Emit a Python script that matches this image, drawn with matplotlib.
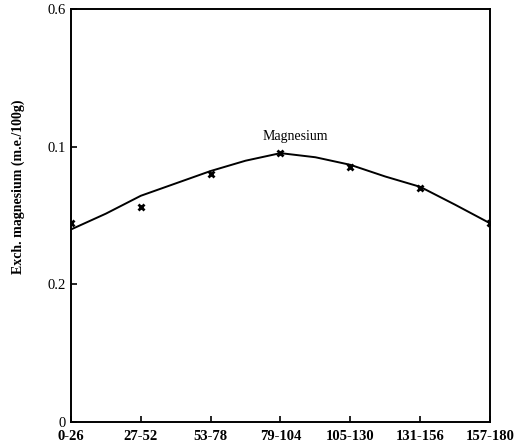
import numpy as np
import matplotlib.pyplot as plt

# depth classes (cm) and measured exchangeable magnesium
depths = ['0-26', '27-52', '53-78', '79-104', '105-130', '131-156', '157-180']
mg_points = [0.290, 0.312, 0.360, 0.391, 0.371, 0.340, 0.289]

# hand-drawn smooth curve at half-class steps
curve_x = [0, 0.5, 1, 1.5, 2, 2.5, 3, 3.5, 4, 4.5, 5, 5.5, 6]
curve_y = [0.280, 0.303, 0.329, 0.347, 0.365, 0.380, 0.391,
           0.385, 0.374, 0.357, 0.342, 0.316, 0.289]

y_ticks = [0, 0.2, 0.4, 0.6]
y_labels = ['0', '0.2', '0.1', '0.6']   # printed as in the original

plt.rcParams['font.family'] = ['Liberation Serif', 'DejaVu Serif']

fig = plt.figure(figsize=(5.18, 4.48), dpi=100)
ax = fig.add_axes([0.137, 0.058, 0.809, 0.921])

x = np.arange(len(depths))
ax.plot(curve_x, curve_y, color='black', lw=1.4)
ax.plot(x, mg_points, 'x', color='black', ms=5, mew=2)

ax.text(3.21, 0.415, 'Magnesium', fontsize=10, ha='center', va='center')

ax.set_xlim(0, 6)
ax.set_ylim(0, 0.6)
ax.set_xticks(x)
ax.set_xticklabels(depths, fontsize=10.5, fontweight='bold')
ax.set_yticks(y_ticks)
ax.set_yticklabels(y_labels, fontsize=10.5)
ax.tick_params(direction='in', length=4, width=1.2)
ax.tick_params(axis='x', pad=6)
for s in ax.spines.values():
    s.set_linewidth(1.4)

ax.set_ylabel('Exch. magnesium (m.e./100g)', fontsize=10, fontweight='bold')
ax.yaxis.set_label_coords(-0.11, 0.57)

fig.savefig('out.png', dpi=100)
